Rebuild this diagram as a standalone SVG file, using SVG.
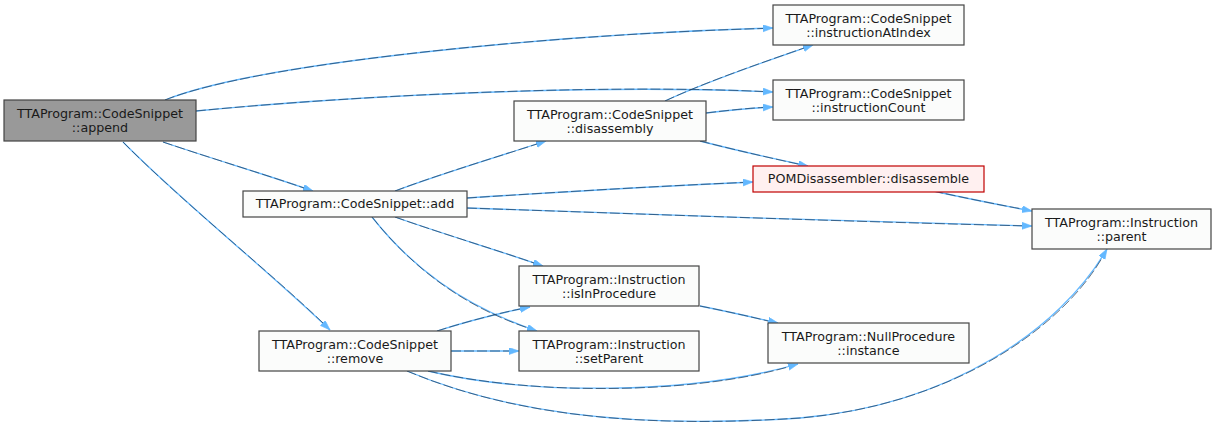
<svg xmlns="http://www.w3.org/2000/svg" width="1216" height="429" viewBox="0 0 1216 429">
<style>
.n rect{fill:#fbfcfb;stroke:#444444;stroke-width:1.2}
.n text{font-family:"DejaVu Sans","Liberation Sans",sans-serif;font-size:12.7px;fill:#1a1a1a;text-anchor:middle}
#n_append rect{fill:#999999;stroke:#444444}
#n_pom rect{fill:#fff0f0;stroke:#c00000}
.e path.b{fill:none;stroke:#63b8ff;stroke-width:1.3;marker-end:url(#ah)}
.e path.d{fill:none;stroke:#1c3550;stroke-width:0.8;stroke-dasharray:10 3;opacity:0.85}
</style>
<defs>
<marker id="ah" markerUnits="userSpaceOnUse" markerWidth="11" markerHeight="8" refX="10" refY="3.5" orient="auto">
<path d="M0,0 L10,3.5 L0,7 z" fill="#63b8ff" stroke="#63b8ff" stroke-width="0.6"/>
</marker>
</defs>
<rect width="1216" height="429" fill="#ffffff"/>
<g id="edges" class="e">
<path class="b" d="M165,100 C260,62 560,34 773,28"/>
<path class="b" d="M196,111 C360,95 600,84 773,92"/>
<path class="b" d="M163,142 C210,158 270,176 313,191"/>
<path class="b" d="M123,142 C180,200 270,272 330,330"/>
<path class="b" d="M665,101 C710,80 770,60 813,45"/>
<path class="b" d="M706,113 C730,110 752,108 773,107"/>
<path class="b" d="M700,141 C735,150 775,159 808,166"/>
<path class="b" d="M395,191 C440,174 500,156 546,141"/>
<path class="b" d="M467,198 C560,192 660,186 753,182"/>
<path class="b" d="M467,208 C640,214 860,222 1032,226"/>
<path class="b" d="M933,191 C965,198 1000,205 1032,211"/>
<path class="b" d="M395,217 C440,233 500,251 543,266"/>
<path class="b" d="M372,217 C410,265 460,305 537,331"/>
<path class="b" d="M437,331 C465,322 500,313 530,307"/>
<path class="b" d="M451,351 L519,351"/>
<path class="b" d="M428,371 C530,395 690,395 798,364"/>
<path class="b" d="M407,371 C500,410 620,430 800,418 C950,405 1060,330 1107,249"/>
<path class="b" d="M700,306 C725,311 752,317 778,323"/>
<path class="d" d="M165,100 C260,62 560,34 763,28.5"/>
<path class="d" d="M196,111 C360,95 600,84 763,91.5"/>
<path class="d" d="M163,142 C210,158 270,176 304,188"/>
<path class="d" d="M123,142 C180,200 270,272 323,323"/>
<path class="d" d="M665,101 C710,80 770,60 804,48"/>
<path class="d" d="M706,113 C730,110 752,108 763,107.5"/>
<path class="d" d="M700,141 C735,150 775,159 798,164"/>
<path class="d" d="M395,191 C440,174 500,156 537,144"/>
<path class="d" d="M467,198 C560,192 660,186 743,182.5"/>
<path class="d" d="M467,208 C640,214 860,222 1022,225.8"/>
<path class="d" d="M933,191 C965,198 1000,205 1022,209"/>
<path class="d" d="M395,217 C440,233 500,251 534,263"/>
<path class="d" d="M372,217 C410,265 460,305 528,328"/>
<path class="d" d="M437,331 C465,322 500,313 520,309"/>
<path class="d" d="M451,351 L509,351"/>
<path class="d" d="M428,371 C530,395 690,395 788,367"/>
<path class="d" d="M407,371 C500,410 620,430 800,418 C950,405 1060,330 1102,258"/>
<path class="d" d="M700,306 C725,311 752,317 768,321"/>
</g>
<g id="n_append" class="n"><rect x="4" y="100" width="192" height="41"/><text x="100" y="118">TTAProgram::CodeSnippet</text><text x="100" y="132">::append</text></g>
<g id="n_instructionAtIndex" class="n"><rect x="773" y="5" width="191" height="40"/><text x="868.5" y="22.5">TTAProgram::CodeSnippet</text><text x="868.5" y="36.5">::instructionAtIndex</text></g>
<g id="n_instructionCount" class="n"><rect x="773" y="80" width="191" height="40"/><text x="868.5" y="97.5">TTAProgram::CodeSnippet</text><text x="868.5" y="111.5">::instructionCount</text></g>
<g id="n_disassembly" class="n"><rect x="514" y="101" width="192" height="40"/><text x="610" y="118.5">TTAProgram::CodeSnippet</text><text x="610" y="132.5">::disassembly</text></g>
<g id="n_add" class="n"><rect x="243" y="191" width="224" height="26"/><text x="355" y="208">TTAProgram::CodeSnippet::add</text></g>
<g id="n_pom" class="n"><rect x="753" y="166" width="231" height="26"/><text x="868.5" y="183">POMDisassembler::disassemble</text></g>
<g id="n_parent" class="n"><rect x="1032" y="209" width="179" height="40"/><text x="1121.5" y="226.5">TTAProgram::Instruction</text><text x="1121.5" y="240.5">::parent</text></g>
<g id="n_isInProcedure" class="n"><rect x="519" y="266" width="180" height="40"/><text x="609" y="283.5">TTAProgram::Instruction</text><text x="609" y="297.5">::isInProcedure</text></g>
<g id="n_setParent" class="n"><rect x="519" y="331" width="180" height="40"/><text x="609" y="348.5">TTAProgram::Instruction</text><text x="609" y="362.5">::setParent</text></g>
<g id="n_remove" class="n"><rect x="259" y="331" width="192" height="40"/><text x="355" y="348.5">TTAProgram::CodeSnippet</text><text x="355" y="362.5">::remove</text></g>
<g id="n_instance" class="n"><rect x="768" y="323" width="201" height="40"/><text x="868.5" y="340.5">TTAProgram::NullProcedure</text><text x="868.5" y="354.5">::instance</text></g>
</svg>
